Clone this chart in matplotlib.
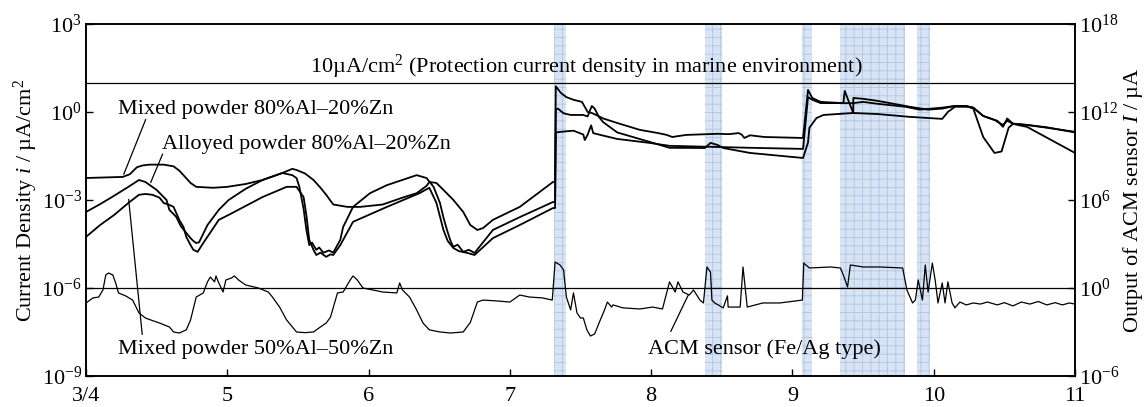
import matplotlib
matplotlib.use("Agg")
import matplotlib.pyplot as plt
from matplotlib.ticker import FixedLocator, NullLocator, FuncFormatter
import numpy as np

plt.rcParams['font.family'] = ['Liberation Serif', 'DejaVu Serif']
plt.rcParams['mathtext.fontset'] = 'custom'
plt.rcParams['mathtext.rm'] = 'Liberation Serif'
plt.rcParams['mathtext.it'] = 'Liberation Serif:italic'
plt.rcParams['mathtext.bf'] = 'Liberation Serif:bold'
plt.rcParams['hatch.linewidth'] = 0.6
plt.rcParams['hatch.color'] = '#adc6e6'

# ---- time axis (days, 3/4 .. 11) ----
x_ticks = [4, 5, 6, 7, 8, 9, 10, 11]
x_tick_labels = ['3/4', '5', '6', '7', '8', '9', '10', '11']

# ---- rain / wet periods (shaded) ----
wet_start = [7.31, 8.38, 9.07, 9.34, 9.88]
wet_end = [7.40, 8.50, 9.14, 9.80, 9.97]

# ---- Mixed powder 80%Al-20%Zn (uA/cm2) ----
mixed80_day = [4.00, 4.26, 4.31, 4.36, 4.40, 4.45, 4.55, 4.62, 4.66, 4.69, 4.74, 4.78, 4.90,
               5.00, 5.13, 5.25, 5.39, 5.46, 5.49, 5.55, 5.61, 5.66, 5.70, 5.75, 5.85, 5.94,
               6.10, 6.24, 6.34, 6.41, 6.43, 6.48, 6.53, 6.60, 6.67, 6.72, 6.77, 6.81, 6.88,
               7.07, 7.305, 7.32, 7.325, 7.36, 7.40, 7.45, 7.51, 7.53, 7.55, 7.58, 7.62, 7.66,
               7.76, 7.92, 8.05, 8.11, 8.15, 8.19, 8.25, 8.40, 8.47, 8.55, 8.62, 8.64, 8.66,
               8.70, 8.80, 9.07, 9.075, 9.11, 9.14, 9.20, 9.36, 9.37, 9.43, 9.431, 9.50, 9.60,
               9.83, 9.96, 10.06, 10.15, 10.23, 10.28, 10.35, 10.43, 10.49, 10.52, 10.56, 10.66,
               10.80, 11.00]
mixed80_val = [5.6e-3, 6.1e-3, 7.5e-3, 1.3e-2, 1.5e-2, 1.6e-2, 1.6e-2, 1.4e-2, 1.0e-2, 7.0e-3,
               3.8e-3, 2.8e-3, 2.6e-3, 2.8e-3, 3.5e-3, 4.8e-3, 8.3e-3, 1.15e-2, 1.05e-2, 8.0e-3,
               4.8e-3, 2.6e-3, 1.5e-3, 7.0e-4, 5.8e-4, 5.8e-4, 7.0e-4, 1.2e-3, 1.7e-3, 3.0e-3,
               4.1e-3, 3.8e-3, 2.2e-3, 1.0e-3, 3.9e-4, 1.4e-4, 9.5e-5, 1.1e-4, 2.1e-4, 5.8e-4,
               4.1e-3, 4.1e-3, 7.5, 4.5, 3.2, 2.6, 2.2, 1.5, 1.0, 0.92, 0.75, 0.6, 0.42, 0.245,
               0.19, 0.165, 0.14, 0.15, 0.165, 0.175, 0.18, 0.175, 0.19, 0.17, 0.13, 0.16, 0.14,
               0.13, 0.13, 5.6, 3.0, 2.2, 2.0, 5.2, 0.92, 3.0, 2.8, 2.4, 1.5, 1.2, 1.3, 1.6, 1.6,
               1.4, 0.73, 0.53, 0.36, 0.5, 0.4, 0.36, 0.29, 0.21]

# ---- Alloyed powder 80%Al-20%Zn (uA/cm2) ----
alloyed_day = [4.00, 4.10, 4.20, 4.30, 4.375, 4.42, 4.50, 4.57, 4.59, 4.62, 4.64, 4.67, 4.71,
               4.74, 4.76, 4.78, 4.80, 4.86, 4.94, 5.01, 5.13, 5.25, 5.39, 5.46, 5.49, 5.51, 5.54,
               5.56, 5.58, 5.60, 5.63, 5.65, 5.68, 5.72, 5.75, 5.80, 5.82, 5.89, 6.01, 6.13,
               6.34, 6.41, 6.46, 6.505, 6.53, 6.555, 6.58, 6.60, 6.63, 6.67, 6.71, 6.75, 6.88,
               7.07, 7.305, 7.32, 7.325, 7.34, 7.38, 7.43, 7.52, 7.55, 7.58, 7.60, 7.63, 7.66,
               7.76, 7.99, 8.13, 8.38, 8.42, 8.47, 8.51, 8.70, 9.075, 9.11, 9.12, 9.17, 9.22,
               9.43, 9.60, 9.83, 10.06, 10.10, 10.15, 10.23, 10.28, 10.35, 10.45, 10.49, 10.52,
               10.56, 10.66, 10.80, 11.00]
alloyed_val = [3.9e-4, 7.2e-4, 1.4e-3, 2.8e-3, 4.8e-3, 4.1e-3, 2.2e-3, 1.0e-3, 4.6e-4, 3.3e-4,
               2.6e-4, 1.3e-4, 7.5e-5, 5.0e-5, 4.0e-5, 3.4e-5, 3.6e-5, 1.4e-4, 4.6e-4, 1.0e-3,
               2.4e-3, 4.8e-3, 8.3e-3, 7.0e-3, 5.6e-3, 2.8e-3, 5.0e-4, 9.5e-5, 2.9e-5, 3.5e-5,
               2.0e-5, 2.4e-5, 1.6e-5, 1.9e-5, 1.6e-5, 4.4e-5, 1.2e-4, 5.8e-4, 1.7e-3, 3.2e-3,
               7.0e-3, 5.6e-3, 2.8e-3, 8.0e-4, 2.5e-4, 9.5e-5, 4.0e-5, 2.5e-5, 3.0e-5, 1.7e-5,
               2.0e-5, 1.56e-5, 9.5e-5, 2.6e-4, 8.5e-4, 8.5e-4, 1.2, 1.3, 0.9, 0.79, 0.79, 0.7,
               1.6, 1.3, 0.68, 0.45, 0.2, 0.095, 0.06, 0.059, 0.088, 0.075, 0.059, 0.04, 0.027,
               0.09, 0.29, 0.62, 0.79, 0.92, 0.85, 0.68, 0.58, 1.0, 1.5, 1.5, 1.4, 0.73, 0.5,
               0.31, 0.6, 0.4, 0.36, 0.3, 0.2]

# ---- Mixed powder 50%Al-50%Zn (uA/cm2) ----
mixed50_day = [4.00, 4.10, 4.20, 4.30, 4.375, 4.42, 4.47, 4.52, 4.55, 4.59, 4.62, 4.66, 4.69,
               4.71, 4.74, 4.76, 4.79, 4.83, 4.94, 5.01, 5.25, 5.42, 5.49, 5.54, 5.56, 5.58,
               5.61, 5.63, 5.66, 5.70, 5.73, 5.75, 5.80, 5.89, 6.13, 6.36, 6.43, 6.48, 6.53,
               6.56, 6.60, 6.64, 6.70, 6.75, 6.88, 7.07, 7.305, 7.32, 7.325, 7.36, 7.45, 7.52,
               7.53, 7.55, 7.575, 7.59, 7.64, 7.76, 7.99, 8.13, 8.70, 9.075, 9.11, 9.14, 9.20,
               9.43, 9.50, 9.60, 9.80, 9.90, 10.06, 10.15, 10.23, 10.28, 10.35, 10.43, 10.48,
               10.53, 10.56, 10.66, 11.00]
mixed50_val = [5.5e-5, 1.4e-4, 3.1e-4, 7.9e-4, 1.5e-3, 1.6e-3, 1.5e-3, 1.2e-3, 7.9e-4, 6.8e-4,
               5.8e-4, 2.1e-4, 1.2e-4, 5.5e-5, 2.9e-5, 2.0e-5, 1.7e-5, 3.4e-5, 2.1e-4, 3.1e-4,
               1.26e-3, 2.8e-3, 2.8e-3, 1.26e-3, 3.0e-4, 4.4e-5, 2.0e-5, 1.33e-5, 1.6e-5, 1.15e-5,
               1.4e-5, 1.33e-5, 2.9e-5, 1.8e-4, 5.8e-4, 1.7e-3, 2.6e-3, 8.0e-4, 9.5e-5, 4.0e-5,
               2.3e-5, 1.8e-5, 1.56e-5, 1.33e-5, 5.0e-5, 1.4e-4, 5.3e-4, 5.3e-4, 0.2, 0.21,
               0.23, 0.17, 0.11, 0.165, 0.35, 0.19, 0.165, 0.12, 0.088, 0.07, 0.06, 0.055, 3.2,
               2.6, 2.0, 2.0, 2.2, 1.9, 1.5, 1.2, 1.4, 1.6, 1.6, 1.3, 0.14, 0.04, 0.045, 0.29,
               0.39, 0.31, 0.04]

# ---- ACM sensor (Fe/Ag type) output (uA) ----
acm_day = [4.00, 4.05, 4.09, 4.12, 4.14, 4.16, 4.19, 4.21, 4.23, 4.28, 4.33, 4.375, 4.42, 4.47,
           4.52, 4.59, 4.62, 4.66, 4.71, 4.74, 4.78, 4.83, 4.86, 4.88, 4.91, 4.92, 4.94, 4.97,
           4.99, 5.03, 5.05, 5.08, 5.13, 5.22, 5.29, 5.32, 5.37, 5.42, 5.49, 5.55, 5.61, 5.65,
           5.70, 5.73, 5.78, 5.82, 5.87, 5.89, 5.92, 5.96, 6.03, 6.10, 6.20, 6.22, 6.24, 6.29,
           6.34, 6.385, 6.43, 6.505, 6.58, 6.67, 6.72, 6.77, 6.81, 6.91, 7.00, 7.07, 7.14,
           7.23, 7.30, 7.32, 7.355, 7.38, 7.40, 7.43, 7.45, 7.475, 7.50, 7.52, 7.545, 7.57,
           7.60, 7.64, 7.67, 7.69, 7.72, 7.73, 7.80, 7.92, 8.01, 8.08, 8.13, 8.17, 8.19, 8.225,
           8.27, 8.30, 8.345, 8.37, 8.395, 8.42, 8.43, 8.45, 8.51, 8.54, 8.545, 8.63, 8.65,
           8.68, 8.79, 8.91, 9.07, 9.08, 9.12, 9.27, 9.34, 9.36, 9.39, 9.41, 9.50, 9.62, 9.78,
           9.81, 9.85, 9.87, 9.89, 9.92, 9.94, 9.96, 9.99, 10.01, 10.03, 10.06, 10.08, 10.10,
           10.13, 10.15, 10.185, 10.23, 10.28, 10.33, 10.38, 10.45, 10.50, 10.56, 10.62, 10.68,
           10.74, 10.80, 10.86, 10.91, 10.96, 11.00]
acm_val = [0.095, 0.21, 0.24, 0.73, 7.7, 10.5, 7.7, 2.2, 0.46, 0.29, 0.15, 0.02, 0.009, 0.006,
           0.0041, 0.0022, 0.001, 0.00085, 0.0014, 0.0066, 0.24, 0.46, 2.6, 5.6, 2.6, 6.6, 2.2,
           0.53, 3.5, 4.8, 6.6, 3.5, 1.6, 1.0, 0.53, 0.24, 0.05, 0.0066, 0.001, 0.0009, 0.001,
           0.0019, 0.0041, 0.01, 0.46, 0.53, 3.5, 6.6, 3.5, 1.0, 0.73, 0.53, 0.46, 2.2, 0.73,
           0.24, 0.032, 0.0041, 0.0014, 0.001, 0.00085, 0.001, 0.0045, 0.11, 0.15, 0.13, 0.11,
           0.33, 0.24, 0.21, 0.15, 59, 37, 17, 0.24, 0.032, 0.46, 0.02, 0.009, 0.009, 0.0014,
           0.00053, 0.00073, 0.0066, 0.032, 0.11, 0.05, 0.07, 0.044, 0.037, 0.05, 0.037, 2.6,
           0.53, 2.6, 0.53, 0.33, 0.73, 0.15, 0.095, 27, 12, 0.15, 0.095, 0.044, 0.29, 0.05,
           0.05, 27, 0.05, 0.095, 0.095, 0.15, 50, 23, 27, 23, 7.7, 1.17, 37, 27, 27, 23, 0.73,
           0.095, 0.15, 3.5, 0.15, 37, 0.53, 50, 3.5, 0.095, 2.2, 0.095, 2.6, 0.095, 0.044,
           0.11, 0.07, 0.095, 0.08, 0.11, 0.07, 0.1, 0.06, 0.11, 0.08, 0.12, 0.07, 0.1, 0.07,
           0.095, 0.08]

protection_level = 10.0      # uA/cm2, protection current density in marine environment
acm_reference = 1.0e-6       # uA/cm2 reference line (1 uA of ACM output)

fig = plt.figure(figsize=(11.45, 4.07), dpi=100)
ax = fig.add_axes([0.0751, 0.0762, 0.8638, 0.865])
ax2 = ax.twinx()

for s, e in zip(wet_start, wet_end):
    ax.axvspan(s, e, facecolor='#d8e4f4', edgecolor='#adc6e6', hatch='++',
               linewidth=0, zorder=0)

ax.axhline(protection_level, color='black', lw=0.9, zorder=2)
ax.axhline(acm_reference, color='black', lw=0.9, zorder=2)

ax.plot(mixed80_day, mixed80_val, color='black', lw=1.3, zorder=3)
ax.plot(alloyed_day, alloyed_val, color='black', lw=1.3, zorder=3)
ax.plot(mixed50_day, mixed50_val, color='black', lw=1.3, zorder=3)
ax2.plot(acm_day, acm_val, color='black', lw=0.9, zorder=3)

ax.set_xlim(4, 11)
ax.set_yscale('log')
ax.set_ylim(1e-9, 1e3)
ax2.set_yscale('log')
ax2.set_ylim(1e-6, 1e18)

ax.xaxis.set_major_locator(FixedLocator(x_ticks))
ax.set_xticklabels(x_tick_labels)
ax.yaxis.set_major_locator(FixedLocator([1e-9, 1e-6, 1e-3, 1e0, 1e3]))
ax.yaxis.set_minor_locator(NullLocator())
ax2.yaxis.set_major_locator(FixedLocator([1e-6, 1e0, 1e6, 1e12, 1e18]))
ax2.yaxis.set_minor_locator(NullLocator())


def pow_fmt(v, pos):
    e = int(round(np.log10(v)))
    return r'$10^{%d}$' % e


ax.yaxis.set_major_formatter(FuncFormatter(pow_fmt))
ax2.yaxis.set_major_formatter(FuncFormatter(pow_fmt))

fs = 16
for a in (ax, ax2):
    a.tick_params(direction='in', length=5, width=1, labelsize=fs, pad=3)
    for sp in a.spines.values():
        sp.set_linewidth(1.2)
ax.tick_params(axis='x', pad=8)

ax.set_ylabel(r'Current Density $i$ / µA/cm$^2$', fontsize=fs, labelpad=1)
ax2.set_ylabel(r'Output of ACM sensor $I$ / µA', fontsize=fs, labelpad=1)

ax.text(7.54, 34, r'10µA/cm$^2$ (Protection current density in marine environment)',
        ha='center', va='center', fontsize=fs, zorder=4)
ax.text(4.23, 1.17, 'Mixed powder 80%Al–20%Zn', ha='left', va='center', fontsize=fs, zorder=4)
ax.text(4.535, 0.075, 'Alloyed powder 80%Al–20%Zn', ha='left', va='center', fontsize=fs,
        zorder=4)
ax.text(4.23, 8e-9, 'Mixed powder 50%Al–50%Zn', ha='left', va='center', fontsize=fs,
        zorder=4)
ax.text(7.98, 8.5e-9, 'ACM sensor (Fe/Ag type)', ha='left', va='center', fontsize=fs,
        zorder=4)

# leader lines from labels to curves
ax.annotate('', xy=(4.26, 6.1e-3), xytext=(4.43, 0.68),
            arrowprops=dict(arrowstyle='-', color='black', lw=0.9))
ax.annotate('', xy=(4.45, 3.2e-3), xytext=(4.55, 0.045),
            arrowprops=dict(arrowstyle='-', color='black', lw=0.9))
ax.annotate('', xy=(4.30, 1.3e-3), xytext=(4.40, 2.1e-8),
            arrowprops=dict(arrowstyle='-', color='black', lw=0.9))
ax.annotate('', xy=(8.27, 6.8e-7), xytext=(8.13, 2.7e-8),
            arrowprops=dict(arrowstyle='-', color='black', lw=0.9))

fig.savefig('out.png', dpi=100)
